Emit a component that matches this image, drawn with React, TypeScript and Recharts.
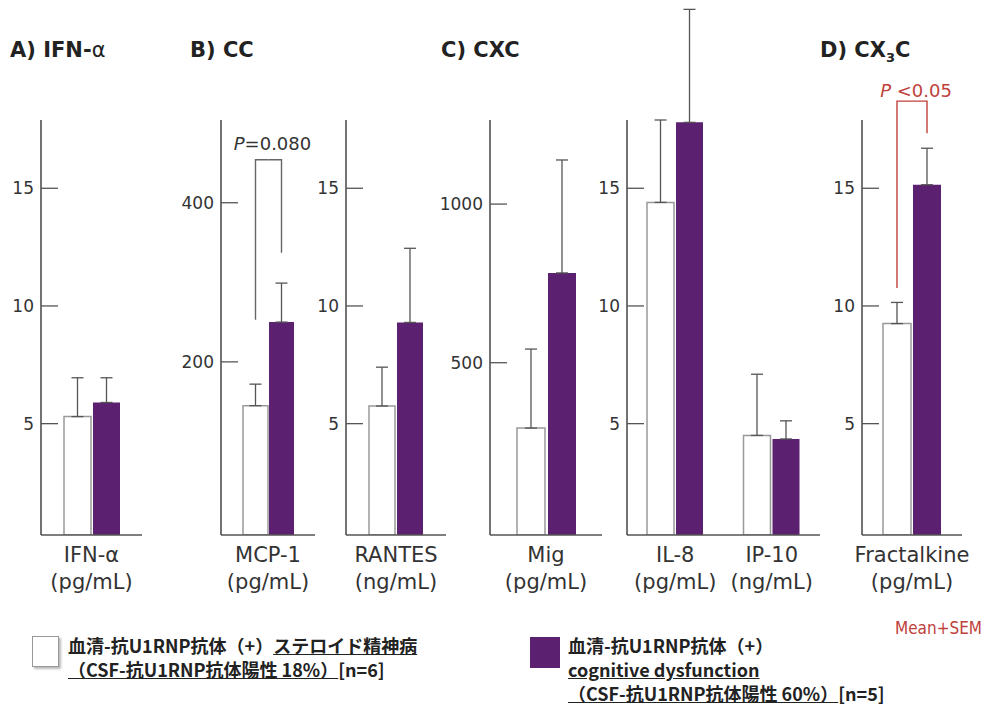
import { Bar, BarChart, ErrorBar, XAxis, YAxis } from 'recharts'

// cytokine panels
const cytokines = ['IFN-α', 'MCP-1', 'RANTES', 'Mig', 'IL-8', 'IP-10', 'Fractalkine']
const units = ['(pg/mL)', '(pg/mL)', '(ng/mL)', '(pg/mL)', '(pg/mL)', '(ng/mL)', '(pg/mL)']

// steroid psychosis group (white)
const steroidMean = [5.3, 145, 5.75, 294, 14.4, 4.5, 9.25]
const steroidSem = [1.65, 27, 1.65, 249, 3.5, 2.6, 0.9]

// cognitive dysfunction group (purple)
const cognitiveMean = [5.9, 250, 9.3, 783, 17.8, 4.35, 15.15]
const cognitiveSem = [1.05, 49, 3.15, 356, 4.8, 0.77, 1.55]

const smallTicks = [5, 10, 15]
const mcpTicks = [200, 400]
const migTicks = [500, 1000]

// significance brackets: left leg bottom, top, right leg bottom (data units)
const mcpBracket = { label: '=0.080', left: 253, top: 454, right: 337 }
const fracBracket = { label: ' <0.05', left: 10.76, top: 18.7, right: 17.34 }

const WHITE = '#ffffff'
const PURPLE = '#5b2170'
const RED = '#c0413b'

type Bracket = { label: string; left: number; top: number; right: number }

type PanelCfg = {
    items: number[]
    plotLeft: number
    plotRight: number
    domain: [number, number]
    ticks: number[]
    barSize: number
    barGap: number
    bracket?: Bracket
    bracketColor?: string
    textGap?: number
}

const panels: PanelCfg[] = [
    { items: [0], plotLeft: 41, plotRight: 142, domain: [0.27, 17.9], ticks: smallTicks, barSize: 27, barGap: 2 },
    { items: [1], plotLeft: 221, plotRight: 315, domain: [-17.6, 504], ticks: mcpTicks, barSize: 25, barGap: 1, bracket: mcpBracket, bracketColor: '#666', textGap: 10 },
    { items: [2], plotLeft: 346, plotRight: 446, domain: [0.27, 17.9], ticks: smallTicks, barSize: 26, barGap: 2 },
    { items: [3], plotLeft: 490, plotRight: 602, domain: [-43, 1265], ticks: migTicks, barSize: 28, barGap: 3 },
    { items: [4, 5], plotLeft: 627, plotRight: 820, domain: [0.27, 17.9], ticks: smallTicks, barSize: 27, barGap: 2 },
    { items: [6], plotLeft: 862, plotRight: 962, domain: [0.27, 17.9], ticks: smallTicks, barSize: 28, barGap: 2, bracket: fracBracket, bracketColor: RED, textGap: 4 },
]

const AXIS_W = 60
const CHART_H = 620
const PLOT_TOP = 120
const X_H = 60
const BOTTOM = 25

const YTick = (props: any) => {
    const { x, y, payload } = props
    return (
        <g>
            <line x1={x} x2={x + 17} y1={y} y2={y} stroke="#555" strokeWidth={1.3} />
            <text x={x - 7} y={y} dy={6} textAnchor="end" fontSize={17} fill="#333" fontFamily="DejaVu Sans">
                {payload.value}
            </text>
        </g>
    )
}

const XTick = (props: any) => {
    const { x, y, payload } = props
    const unit = units[cytokines.indexOf(payload.value)]
    return (
        <g fontFamily="DejaVu Sans" fontSize={21} fill="#333">
            <text x={x} y={y + 27} textAnchor="middle" fill="#333">{payload.value}</text>
            <text x={x} y={y + 54} textAnchor="middle" fill="#333">{unit}</text>
        </g>
    )
}

// half of a bracket drawn from the bar's own geometry
function bracketLabel(cfg: PanelCfg, side: 'left' | 'right') {
    return (props: any) => {
        const b = cfg.bracket
        if (!b) return null
        const vb = props.viewBox ?? props
        const { x, y, width, height } = vb
        const i = cfg.items[props.index ?? 0]
        const mean = side === 'left' ? steroidMean[i] : cognitiveMean[i]
        const dmin = cfg.domain[0]
        const ppu = height / (mean - dmin)
        const toY = (v: number) => y + height - (v - dmin) * ppu
        const cx = x + width / 2
        const color = cfg.bracketColor ?? '#666'
        if (side === 'left') {
            const mid = x + width + cfg.barGap / 2
            return (
                <g>
                    <polyline
                        points={`${cx},${toY(b.left)} ${cx},${toY(b.top)} ${mid},${toY(b.top)}`}
                        fill="none"
                        stroke={color}
                        strokeWidth={1.4}
                    />
                    <text
                        x={mid + 4}
                        y={toY(b.top) - (cfg.textGap ?? 6)}
                        textAnchor="middle"
                        fontSize={18}
                        fontFamily="DejaVu Sans"
                        fill={color === RED ? RED : '#333'}
                    >
                        <tspan fontStyle="italic">P</tspan>
                        {b.label}
                    </text>
                </g>
            )
        }
        const mid = x - cfg.barGap / 2
        return (
            <polyline
                points={`${mid},${toY(b.top)} ${cx},${toY(b.top)} ${cx},${toY(b.right)}`}
                fill="none"
                stroke={color}
                strokeWidth={1.4}
            />
        )
    }
}

function Panel({ cfg }: { cfg: PanelCfg }) {
    const floor = cfg.domain[0] < 0 ? cfg.domain[0] : null
    const rows = cfg.items.map((i) => ({
        name: cytokines[i],
        steroid: floor !== null ? [floor, steroidMean[i]] : steroidMean[i],
        steroidErr: [0, steroidSem[i]],
        cognitive: floor !== null ? [floor, cognitiveMean[i]] : cognitiveMean[i],
        cognitiveErr: [0, cognitiveSem[i]],
    }))
    const left = cfg.plotLeft - AXIS_W
    const width = cfg.plotRight - left + 10
    return (
        <div style={{ position: 'absolute', left, top: 0 }}>
            <BarChart
                width={width}
                height={CHART_H}
                data={rows}
                margin={{ top: PLOT_TOP, right: 10, left: 0, bottom: BOTTOM }}
                barSize={cfg.barSize}
                barGap={cfg.barGap}
            >
                <XAxis
                    dataKey="name"
                    height={X_H}
                    tickSize={0}
                    tickMargin={0}
                    tickLine={false}
                    interval={0}
                    axisLine={{ stroke: '#555', strokeWidth: 1.5 }}
                    tick={(p: any) => <XTick {...p} />}
                />
                <YAxis
                    type="number"
                    domain={cfg.domain}
                    allowDataOverflow
                    ticks={cfg.ticks}
                    interval={0}
                    width={AXIS_W}
                    tickSize={0}
                    tickMargin={0}
                    tickLine={false}
                    axisLine={{ stroke: '#444', strokeWidth: 1.5 }}
                    tick={(p: any) => <YTick {...p} />}
                />
                <Bar
                    dataKey="steroid"
                    fill={WHITE}
                    stroke="#999"
                    strokeWidth={1.5}
                    isAnimationActive={false}
                    label={cfg.bracket ? bracketLabel(cfg, 'left') : false}
                >
                    <ErrorBar dataKey="steroidErr" width={6} stroke="#555" strokeWidth={1.3} direction="y" isAnimationActive={false} />
                </Bar>
                <Bar
                    dataKey="cognitive"
                    fill={PURPLE}
                    isAnimationActive={false}
                    label={cfg.bracket ? bracketLabel(cfg, 'right') : false}
                >
                    <ErrorBar dataKey="cognitiveErr" width={6} stroke="#555" strokeWidth={1.3} direction="y" isAnimationActive={false} />
                </Bar>
            </BarChart>
        </div>
    )
}

const titleStyle: React.CSSProperties = {
    position: 'absolute',
    top: 40,
    fontSize: 21,
    lineHeight: '21px',
    fontWeight: 'bold',
    color: '#222',
    fontFamily: 'DejaVu Sans',
    whiteSpace: 'nowrap',
}

const legendText: React.CSSProperties = {
    position: 'absolute',
    top: 633,
    fontSize: 18,
    lineHeight: '24px',
    fontWeight: 'bold',
    color: '#222',
    fontFamily: '"Noto Sans CJK JP"',
    whiteSpace: 'nowrap',
}

export default function App() {
    return (
        <div
            style={{
                position: 'absolute',
                left: 0,
                top: 0,
                width: 1000,
                height: 712,
                background: '#fff',
                overflow: 'hidden',
                fontFamily: 'DejaVu Sans',
            }}
        >
            {panels.map((cfg, k) => (
                <Panel key={k} cfg={cfg} />
            ))}

            <div style={{ ...titleStyle, left: 10 }}>A) IFN-<span style={{ fontWeight: 'normal' }}>α</span></div>
            <div style={{ ...titleStyle, left: 190 }}>B) CC</div>
            <div style={{ ...titleStyle, left: 441 }}>C) CXC</div>
            <div style={{ ...titleStyle, left: 820 }}>
                D) CX<sub style={{ fontSize: 13 }}>3</sub>C
            </div>

            <div
                style={{
                    position: 'absolute',
                    left: 32,
                    top: 636,
                    width: 25,
                    height: 29,
                    border: '1.5px solid #999',
                    boxShadow: '2px 2px 2px #bbb',
                    background: WHITE,
                }}
            />
            <div style={{ ...legendText, left: 68 }}>
                <div>
                    血清-抗U1RNP抗体（+）<u>ステロイド精神病</u>
                </div>
                <div>
                    <u>（CSF-抗U1RNP抗体陽性 18%）</u>[n=6]
                </div>
            </div>

            <div style={{ position: 'absolute', left: 530, top: 637, width: 30, height: 31, background: PURPLE }} />
            <div style={{ ...legendText, left: 568 }}>
                <div>血清-抗U1RNP抗体（+）</div>
                <div>
                    <u>cognitive dysfunction</u>
                </div>
                <div>
                    <u>（CSF-抗U1RNP抗体陽性 60%）</u>[n=5]
                </div>
            </div>

            <div
                style={{
                    position: 'absolute',
                    left: 895,
                    top: 618,
                    fontSize: 17,
                    color: RED,
                    fontFamily: '"DejaVu Sans Condensed", "DejaVu Sans"',
                    whiteSpace: 'nowrap',
                }}
            >
                Mean+SEM
            </div>
        </div>
    )
}
